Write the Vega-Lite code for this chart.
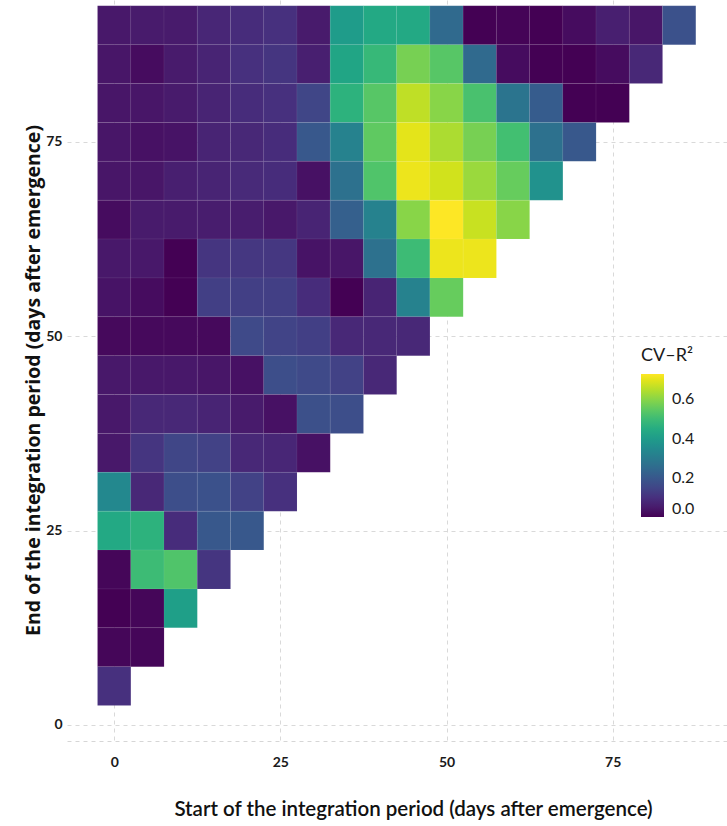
{
  "$schema": "https://vega.github.io/schema/vega-lite/v6.json",
  "width": 660,
  "height": 741,
  "autosize": "none",
  "padding": {"left": 67, "top": 0, "right": 0, "bottom": 85},
  "background": "white",
  "config": {
    "view": {"stroke": null},
    "font": "Lato",
    "axis": {"labelFont": "Lato"},
    "legend": {"labelFont": "Lato", "titleFont": "Lato"}
  },
  "data": {
    "values": [
      {"s":0,"e":90,"v":0.045},{"s":5,"e":90,"v":0.05},{"s":10,"e":90,"v":0.05},{"s":15,"e":90,"v":0.075},{"s":20,"e":90,"v":0.09},{"s":25,"e":90,"v":0.10},{"s":30,"e":90,"v":0.05},{"s":35,"e":90,"v":0.40},{"s":40,"e":90,"v":0.44},{"s":45,"e":90,"v":0.44},{"s":50,"e":90,"v":0.25},{"s":55,"e":90,"v":0.0},{"s":60,"e":90,"v":0.005},{"s":65,"e":90,"v":0.0},{"s":70,"e":90,"v":0.02},{"s":75,"e":90,"v":0.06},{"s":80,"e":90,"v":0.04},{"s":85,"e":90,"v":0.18},
      {"s":0,"e":85,"v":0.04},{"s":5,"e":85,"v":0.02},{"s":10,"e":85,"v":0.05},{"s":15,"e":85,"v":0.07},{"s":20,"e":85,"v":0.10},{"s":25,"e":85,"v":0.11},{"s":30,"e":85,"v":0.06},{"s":35,"e":85,"v":0.43},{"s":40,"e":85,"v":0.49},{"s":45,"e":85,"v":0.58},{"s":50,"e":85,"v":0.54},{"s":55,"e":85,"v":0.25},{"s":60,"e":85,"v":0.02},{"s":65,"e":85,"v":0.0},{"s":70,"e":85,"v":0.0},{"s":75,"e":85,"v":0.02},{"s":80,"e":85,"v":0.08},
      {"s":0,"e":80,"v":0.04},{"s":5,"e":80,"v":0.04},{"s":10,"e":80,"v":0.05},{"s":15,"e":80,"v":0.07},{"s":20,"e":80,"v":0.09},{"s":25,"e":80,"v":0.10},{"s":30,"e":80,"v":0.15},{"s":35,"e":80,"v":0.47},{"s":40,"e":80,"v":0.54},{"s":45,"e":80,"v":0.66},{"s":50,"e":80,"v":0.60},{"s":55,"e":80,"v":0.52},{"s":60,"e":80,"v":0.28},{"s":65,"e":80,"v":0.21},{"s":70,"e":80,"v":0.0},{"s":75,"e":80,"v":0.0},
      {"s":0,"e":75,"v":0.04},{"s":5,"e":75,"v":0.03},{"s":10,"e":75,"v":0.035},{"s":15,"e":75,"v":0.07},{"s":20,"e":75,"v":0.08},{"s":25,"e":75,"v":0.09},{"s":30,"e":75,"v":0.20},{"s":35,"e":75,"v":0.32},{"s":40,"e":75,"v":0.55},{"s":45,"e":75,"v":0.70},{"s":50,"e":75,"v":0.64},{"s":55,"e":75,"v":0.58},{"s":60,"e":75,"v":0.51},{"s":65,"e":75,"v":0.27},{"s":70,"e":75,"v":0.20},
      {"s":0,"e":70,"v":0.04},{"s":5,"e":70,"v":0.04},{"s":10,"e":70,"v":0.06},{"s":15,"e":70,"v":0.07},{"s":20,"e":70,"v":0.085},{"s":25,"e":70,"v":0.09},{"s":30,"e":70,"v":0.03},{"s":35,"e":70,"v":0.27},{"s":40,"e":70,"v":0.53},{"s":45,"e":70,"v":0.71},{"s":50,"e":70,"v":0.68},{"s":55,"e":70,"v":0.62},{"s":60,"e":70,"v":0.56},{"s":65,"e":70,"v":0.37},
      {"s":0,"e":65,"v":0.02},{"s":5,"e":65,"v":0.05},{"s":10,"e":65,"v":0.05},{"s":15,"e":65,"v":0.055},{"s":20,"e":65,"v":0.055},{"s":25,"e":65,"v":0.045},{"s":30,"e":65,"v":0.07},{"s":35,"e":65,"v":0.22},{"s":40,"e":65,"v":0.32},{"s":45,"e":65,"v":0.60},{"s":50,"e":65,"v":0.73},{"s":55,"e":65,"v":0.67},{"s":60,"e":65,"v":0.60},
      {"s":0,"e":60,"v":0.045},{"s":5,"e":60,"v":0.045},{"s":10,"e":60,"v":0.0},{"s":15,"e":60,"v":0.11},{"s":20,"e":60,"v":0.115},{"s":25,"e":60,"v":0.115},{"s":30,"e":60,"v":0.035},{"s":35,"e":60,"v":0.04},{"s":40,"e":60,"v":0.27},{"s":45,"e":60,"v":0.50},{"s":50,"e":60,"v":0.71},{"s":55,"e":60,"v":0.71},
      {"s":0,"e":55,"v":0.035},{"s":5,"e":55,"v":0.02},{"s":10,"e":55,"v":0.0},{"s":15,"e":55,"v":0.135},{"s":20,"e":55,"v":0.135},{"s":25,"e":55,"v":0.135},{"s":30,"e":55,"v":0.09},{"s":35,"e":55,"v":0.0},{"s":40,"e":55,"v":0.07},{"s":45,"e":55,"v":0.32},{"s":50,"e":55,"v":0.56},
      {"s":0,"e":50,"v":0.015},{"s":5,"e":50,"v":0.015},{"s":10,"e":50,"v":0.015},{"s":15,"e":50,"v":0.015},{"s":20,"e":50,"v":0.16},{"s":25,"e":50,"v":0.145},{"s":30,"e":50,"v":0.135},{"s":35,"e":50,"v":0.08},{"s":40,"e":50,"v":0.08},{"s":45,"e":50,"v":0.08},
      {"s":0,"e":45,"v":0.045},{"s":5,"e":45,"v":0.045},{"s":10,"e":45,"v":0.045},{"s":15,"e":45,"v":0.04},{"s":20,"e":45,"v":0.03},{"s":25,"e":45,"v":0.17},{"s":30,"e":45,"v":0.16},{"s":35,"e":45,"v":0.14},{"s":40,"e":45,"v":0.08},
      {"s":0,"e":40,"v":0.045},{"s":5,"e":40,"v":0.08},{"s":10,"e":40,"v":0.08},{"s":15,"e":40,"v":0.07},{"s":20,"e":40,"v":0.05},{"s":25,"e":40,"v":0.03},{"s":30,"e":40,"v":0.175},{"s":35,"e":40,"v":0.17},
      {"s":0,"e":35,"v":0.045},{"s":5,"e":35,"v":0.11},{"s":10,"e":35,"v":0.15},{"s":15,"e":35,"v":0.14},{"s":20,"e":35,"v":0.08},{"s":25,"e":35,"v":0.075},{"s":30,"e":35,"v":0.03},
      {"s":0,"e":30,"v":0.34},{"s":5,"e":30,"v":0.08},{"s":10,"e":30,"v":0.17},{"s":15,"e":30,"v":0.18},{"s":20,"e":30,"v":0.14},{"s":25,"e":30,"v":0.10},
      {"s":0,"e":25,"v":0.44},{"s":5,"e":25,"v":0.47},{"s":10,"e":25,"v":0.09},{"s":15,"e":25,"v":0.20},{"s":20,"e":25,"v":0.20},
      {"s":0,"e":20,"v":0.01},{"s":5,"e":20,"v":0.50},{"s":10,"e":20,"v":0.53},{"s":15,"e":20,"v":0.11},
      {"s":0,"e":15,"v":0.0},{"s":5,"e":15,"v":0.01},{"s":10,"e":15,"v":0.41},
      {"s":0,"e":10,"v":0.01},{"s":5,"e":10,"v":0.01},
      {"s":0,"e":5,"v":0.10}
    ]
  },
  "mark": {"type": "rect", "width": 33.33, "height": 38.9, "stroke": "#ffffff", "strokeWidth": 0.5, "strokeOpacity": 0.12},
  "encoding": {
    "x": {
      "field": "s", "type": "quantitative",
      "scale": {"domain": [-7.1, 92.2], "nice": false, "zero": false},
      "axis": {
        "values": [0, 25, 50, 75],
        "title": "Start of the integration period (days after emergence)",
        "titleFont": "Lato", "titleFontSize": 20.5, "titleFontWeight": 600, "titleColor": "#111111",
        "titleX": 346, "titleY": 74, "titleBaseline": "alphabetic", "titleAlign": "center",
        "labelFontSize": 14, "labelFontWeight": "bold", "labelColor": "#1a1a1a", "labelPadding": 14,
        "ticks": false,
        "domain": true, "domainColor": "#d6d6d6", "domainDash": [4, 4], "domainWidth": 1,
        "grid": true, "gridColor": "#d9d9d9", "gridDash": [4, 4], "gridWidth": 1
      }
    },
    "y": {
      "field": "e", "type": "quantitative",
      "scale": {"domain": [-2.06, 93.25], "nice": false, "zero": false},
      "axis": {
        "values": [0, 25, 50, 75],
        "title": "End of the integration period (days after emergence)",
        "titleFont": "Open Sans", "titleFontSize": 19.5, "titleFontWeight": "bold", "titleColor": "#111111",
        "titleAngle": -90, "titleX": -28, "titleY": 380, "titleBaseline": "alphabetic", "titleAlign": "center",
        "labelFontSize": 14, "labelFontWeight": "bold", "labelColor": "#1a1a1a", "labelPadding": 5,
        "ticks": false, "domain": false,
        "grid": true, "gridColor": "#d9d9d9", "gridDash": [4, 4], "gridWidth": 1
      }
    },
    "color": {
      "field": "v", "type": "quantitative",
      "scale": {"scheme": "viridis", "domain": [0, 0.73]},
      "legend": {
        "title": "CV–R²",
        "orient": "none", "legendX": 574, "legendY": 347,
        "direction": "vertical",
        "values": [0, 0.2, 0.4, 0.6], "format": ".1f",
        "gradientLength": 143, "gradientThickness": 23,
        "titleFontSize": 18, "titleFontWeight": "normal", "titleColor": "#1a1a1a", "titlePadding": 9,
        "labelFontSize": 16, "labelColor": "#1a1a1a", "labelOffset": 8, "labelBaseline": "middle"
      }
    }
  }
}
